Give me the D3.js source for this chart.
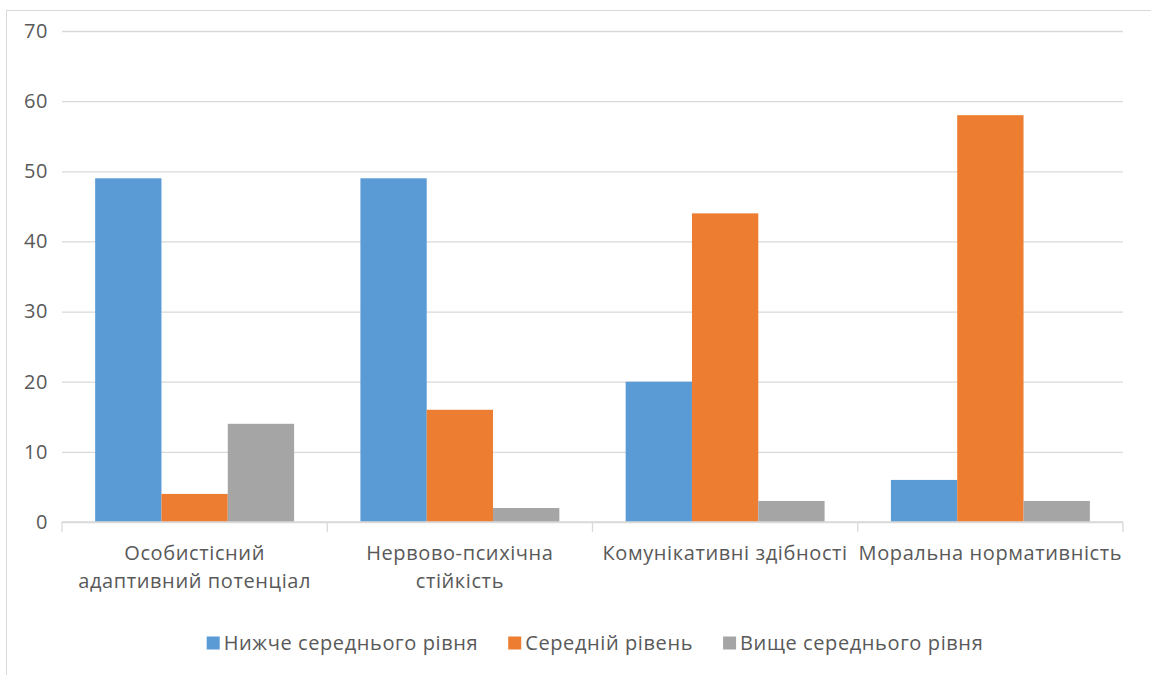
<!DOCTYPE html>
<html>
<head>
<meta charset="utf-8">
<script src="https://cdn.jsdelivr.net/npm/d3@7"></script>
<style>
  html, body { margin: 0; padding: 0; background: #fff; }
  svg { display: block; }
  text { font-family: "Open Sans", "Noto Sans", sans-serif; fill: #595959; }
</style>
</head>
<body>
<svg id="chart" width="1151" height="675"></svg>
<script>
// Categories (x axis), with line breaks as shown under the axis
const categories = [
  "Особистісний адаптивний потенціал",
  "Нервово-психічна стійкість",
  "Комунікативні здібності",
  "Моральна нормативність"
];
const categoryLines = [
  ["Особистісний", "адаптивний потенціал"],
  ["Нервово-психічна", "стійкість"],
  ["Комунікативні здібності"],
  ["Моральна нормативність"]
];

// Series
const seriesNames = ["Нижче середнього рівня", "Середній рівень", "Вище середнього рівня"];
const belowAverage = [49, 49, 20, 6];
const average      = [4, 16, 44, 58];
const aboveAverage = [14, 2, 3, 3];
const seriesColors = ["#5B9BD5", "#ED7D31", "#A5A5A5"];

// Y axis ticks
const yTicks = [0, 10, 20, 30, 40, 50, 60, 70];

const seriesValues = [belowAverage, average, aboveAverage];
const data = categories.map((c, i) => ({
  category: c,
  values: seriesNames.map((s, j) => ({ series: s, value: seriesValues[j][i], color: seriesColors[j] }))
}));

const FONT_SIZE = 20;
const LETTER_SPACING = 0.6;

const svg = d3.select("#chart");

// Chart frame (left and top edges visible)
svg.append("rect")
  .attr("x", 6.5).attr("y", 10.5)
  .attr("width", 1160).attr("height", 680)
  .attr("fill", "none").attr("stroke", "#D9D9D9").attr("stroke-width", 1);

const plot = { left: 62, right: 1123, top: 31, bottom: 522 };

const x = d3.scaleBand()
  .domain(categories)
  .range([plot.left, plot.right])
  .paddingInner(0).paddingOuter(0);

const inner = d3.scaleBand()
  .domain(seriesNames)
  .range([x.bandwidth() / 8, x.bandwidth() * 7 / 8]);

const y = d3.scaleLinear()
  .domain([0, 70])
  .range([plot.bottom, plot.top]);

// Gridlines + y labels
const yAxis = svg.append("g")
  .attr("transform", `translate(${plot.left},0)`)
  .call(d3.axisLeft(y).tickValues(yTicks).tickSize(-(plot.right - plot.left)).tickPadding(14));
yAxis.select(".domain").remove();
yAxis.selectAll(".tick line").attr("stroke", "#D9D9D9").attr("stroke-width", 1.3);
yAxis.selectAll(".tick text")
  .attr("font-size", FONT_SIZE)
  .attr("letter-spacing", LETTER_SPACING)
  .style("font-family", '"Open Sans", "Noto Sans", sans-serif')
  .attr("fill", "#595959");

// Bars
const groups = svg.append("g").selectAll("g")
  .data(data).join("g")
  .attr("transform", d => `translate(${x(d.category)},0)`);

groups.selectAll("rect")
  .data(d => d.values).join("rect")
  .attr("x", d => inner(d.series))
  .attr("width", inner.bandwidth())
  .attr("y", d => y(d.value))
  .attr("height", d => y(0) - y(d.value))
  .attr("fill", d => d.color);

// X axis line and category separators
const xAxisG = svg.append("g").attr("transform", `translate(0,${plot.bottom})`);
xAxisG.append("line")
  .attr("x1", plot.left).attr("x2", plot.right)
  .attr("stroke", "#D9D9D9").attr("stroke-width", 1.3);
const boundaries = categories.map(c => x(c)).concat([x(categories[categories.length - 1]) + x.bandwidth()]);
xAxisG.selectAll("line.sep")
  .data(boundaries).join("line")
  .attr("class", "sep")
  .attr("x1", d => d).attr("x2", d => d)
  .attr("y1", 0).attr("y2", 10)
  .attr("stroke", "#D9D9D9").attr("stroke-width", 1.3);

// Category labels
const labels = xAxisG.selectAll("text.cat")
  .data(data).join("text")
  .attr("class", "cat")
  .attr("text-anchor", "middle")
  .attr("font-size", FONT_SIZE)
  .attr("letter-spacing", LETTER_SPACING)
  .attr("transform", d => `translate(${x(d.category) + x.bandwidth() / 2},38)`);
labels.each(function (d, i) {
  d3.select(this).selectAll("tspan")
    .data(categoryLines[i]).join("tspan")
    .attr("x", 0)
    .attr("y", (t, k) => k * 28)
    .text(t => t);
});

// Legend
const legend = svg.append("g").attr("transform", "translate(0,643)");
const items = legend.selectAll("g")
  .data(seriesNames).join("g");
items.append("rect")
  .attr("width", 13).attr("height", 13).attr("y", -6.5)
  .attr("fill", (d, i) => seriesColors[i]);
items.append("text")
  .attr("x", 17).attr("dy", "0.35em")
  .attr("font-size", FONT_SIZE)
  .attr("letter-spacing", LETTER_SPACING)
  .text(d => d);
let widths = [];
items.each(function () { widths.push(this.getBBox().width); });
const gap = 30;
const total = d3.sum(widths) + gap * (widths.length - 1);
let cx = 595 - total / 2;
items.attr("transform", (d, i) => {
  const t = `translate(${cx},0)`;
  cx += widths[i] + gap;
  return t;
});
</script>
</body>
</html>
